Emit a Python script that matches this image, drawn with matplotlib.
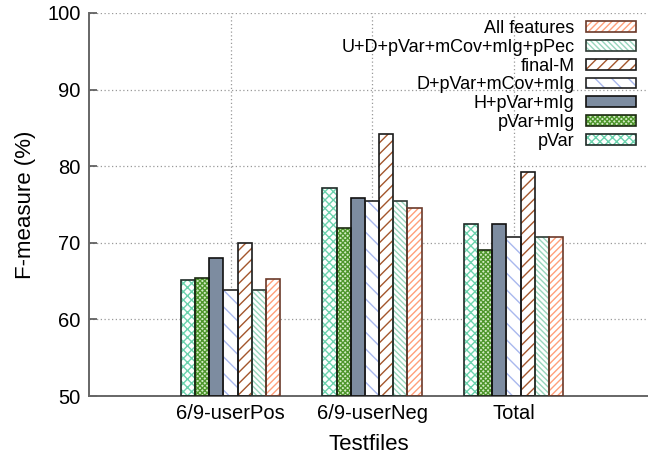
import numpy as np
import matplotlib
matplotlib.use("Agg")
from matplotlib import pyplot as plt
from matplotlib.patches import Patch
from matplotlib.legend_handler import HandlerTuple

plt.rcParams['font.family'] = ['Liberation Sans', 'DejaVu Sans']
plt.rcParams['hatch.linewidth'] = 1.0

testfiles = ["6/9-userPos", "6/9-userNeg", "Total"]
feature_sets = ["pVar", "pVar+mIg", "H+pVar+mIg", "D+pVar+mCov+mIg",
                "final-M", "U+D+pVar+mCov+mIg+pPec", "All features"]

# F-measure (%) per feature set, one value per testfile
f_pvar = [65.2, 77.2, 72.4]
f_pvar_mig = [65.4, 71.9, 69.1]
f_h_pvar_mig = [68.0, 75.8, 72.4]
f_d_pvar_mcov_mig = [63.8, 75.4, 70.7]
f_final_m = [70.0, 84.2, 79.3]
f_u_d_all = [63.8, 75.4, 70.7]
f_all = [65.3, 74.6, 70.7]

series = [f_pvar, f_pvar_mig, f_h_pvar_mig, f_d_pvar_mcov_mig,
          f_final_m, f_u_d_all, f_all]

# (hatch colour, hatch pattern, fill, border)
styles = [
    ("#6cd3ae", "x" * 4, "white", "#1e2a26"),
    ("#4e962c", "x" * 7, "#d2ebc4", "#1c2a12"),
    ("#7d8ca0", "", "#7d8ca0", "#111111"),
    ("#a9b8ee", "\\" * 2, "white", "#222222"),
    ("#a3562c", "/" * 3, "white", "#1a1a1a"),
    ("#98d6bd", "\\" * 6, "white", "#2d3a33"),
    ("#ffa07a", "/" * 5, "white", "#6b3a2a"),
]

fig = plt.figure(figsize=(6.48, 4.55), dpi=100)
ax = fig.add_axes([89 / 648, 1 - 396 / 455, 1 - 89 / 648, (396 - 13) / 455])

x = np.arange(len(testfiles))
width = 0.1
handles = []
for j, (vals, (hc, hatch, fc, ec)) in enumerate(zip(series, styles)):
    pos = x + (j - 3) * width
    ax.bar(pos, np.array(vals) - 50, width, bottom=50, facecolor=fc,
           edgecolor=hc, hatch=hatch, linewidth=0, zorder=2)
    ax.bar(pos, np.array(vals) - 50, width, bottom=50, facecolor="none",
           edgecolor=ec, linewidth=1.2, zorder=3)
    h1 = Patch(facecolor=fc, edgecolor=hc, hatch=hatch, linewidth=0)
    h2 = Patch(facecolor="none", edgecolor=ec, linewidth=1.2)
    handles.append((h1, h2))

ax.set_xlim(-1, (648 - 89) / 141.5 - 1)
ax.set_ylim(50, 100)
ax.set_yticks([50, 60, 70, 80, 90, 100])
ax.set_xticks(x)
ax.set_xticklabels(testfiles)
ax.tick_params(axis="y", direction="in", length=6, width=1.2, color="#555555",
               labelsize=14.5, pad=6)
ax.tick_params(axis="x", length=0, labelsize=14.5, pad=6)

ax.grid(True, linestyle=(0, (1, 2)), color="#999999", linewidth=0.9, zorder=0)
ax.set_axisbelow(True)

for side in ("top", "right"):
    ax.spines[side].set_visible(False)
for side in ("left", "bottom"):
    ax.spines[side].set_color("#666666")
    ax.spines[side].set_linewidth(1.4)

ax.set_ylabel("F-measure (%)", fontsize=16, labelpad=8)
ax.set_xlabel("Testfiles", fontsize=16, labelpad=8)

leg = ax.legend(handles[::-1], feature_sets[::-1], loc="upper right",
                bbox_to_anchor=(636 / 648, 1 - 20 / 455),
                bbox_transform=fig.transFigure, frameon=False, fontsize=13,
                markerfirst=False, handlelength=2.75, handleheight=0.55,
                labelspacing=0.1, handletextpad=0.65, borderpad=0,
                borderaxespad=0,
                handler_map={tuple: HandlerTuple(ndivide=1, pad=0)})
for t in leg.get_texts():
    t.set_ha("right")

fig.savefig("out.png", dpi=100)
